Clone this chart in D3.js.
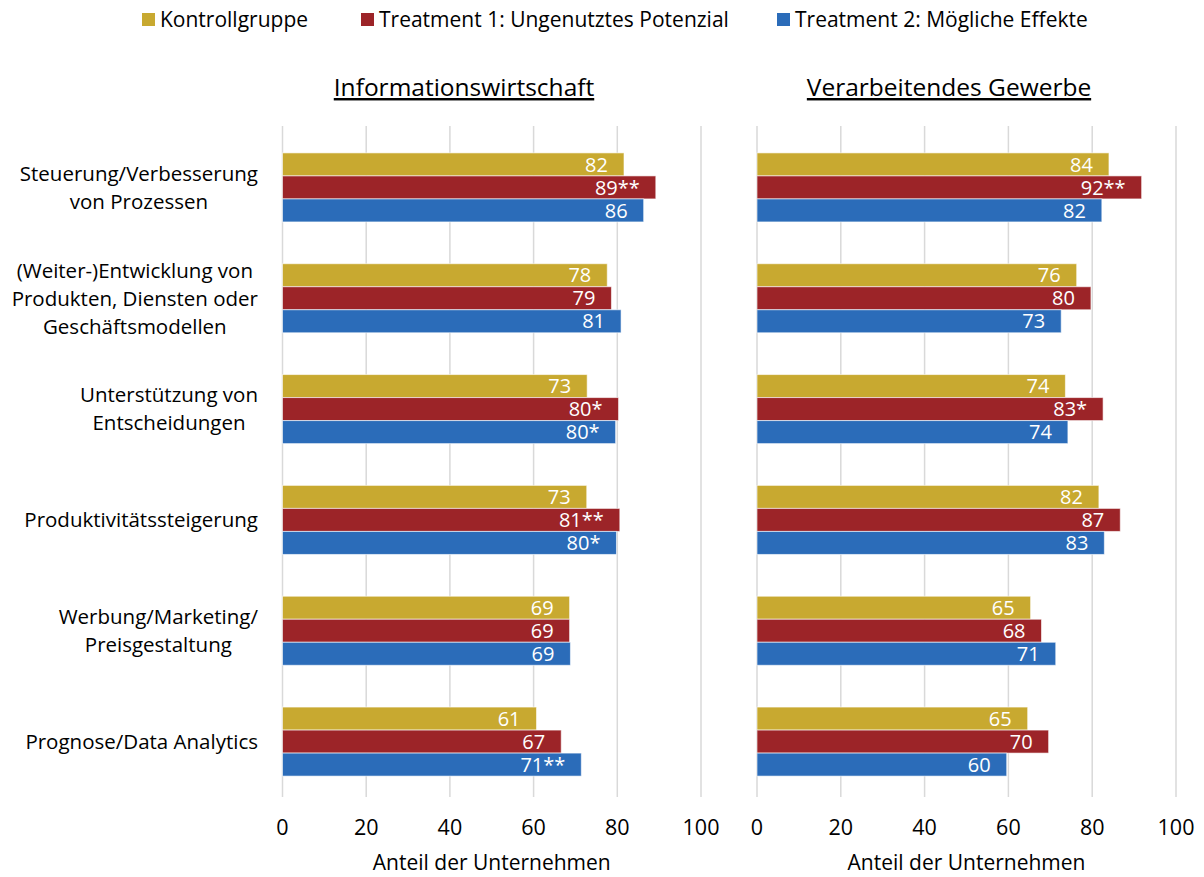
<!DOCTYPE html>
<html>
<head>
<meta charset="utf-8">
<script src="https://cdn.jsdelivr.net/npm/d3@7"></script>
<style>
  body { margin: 0; background: #fff; }
  text { font-family: 'Open Sans', sans-serif; fill: #000; }
</style>
</head>
<body>
<div id="chart"></div>
<script>
var width = 1204,
    height = 877,
    colors = ['#C8A930', '#9C2428', '#2B6CB9'];

// Data
var categories = [
    ['Steuerung/Verbesserung', 'von Prozessen'],
    ['(Weiter-)Entwicklung von', 'Produkten, Diensten oder', 'Geschäftsmodellen'],
    ['Unterstützung von', 'Entscheidungen'],
    ['Produktivitätssteigerung'],
    ['Werbung/Marketing/', 'Preisgestaltung'],
    ['Prognose/Data Analytics']
];
var seriesNames = ['Kontrollgruppe', 'Treatment 1: Ungenutztes Potenzial', 'Treatment 2: Mögliche Effekte'];
var panelTitles = ['Informationswirtschaft', 'Verarbeitendes Gewerbe'];
var xTicks = [0, 20, 40, 60, 80, 100];

// values per category: [Kontrollgruppe, Treatment 1, Treatment 2]
var infoValues = [
    [81.6, 89.2, 86.3],
    [77.6, 78.6, 80.9],
    [72.8, 80.3, 79.6],
    [72.7, 80.6, 79.8],
    [68.6, 68.6, 68.8],
    [60.7, 66.6, 71.4]
];
var infoStars = [
    ['', '**', ''],
    ['', '', ''],
    ['', '*', '*'],
    ['', '**', '*'],
    ['', '', ''],
    ['', '', '**']
];
var gewValues = [
    [84.0, 91.8, 82.3],
    [76.3, 79.7, 72.6],
    [73.6, 82.6, 74.2],
    [81.6, 86.7, 82.9],
    [65.3, 67.9, 71.3],
    [64.6, 69.6, 59.6]
];
var gewStars = [
    ['', '**', ''],
    ['', '', ''],
    ['', '*', ''],
    ['', '', ''],
    ['', '', ''],
    ['', '', '']
];

var svg = d3.select('#chart')
    .append('svg')
    .attr('width', width)
    .attr('height', height);

// Scales
var y = d3.scaleBand()
    .domain(d3.range(categories.length))
    .range([132, 797])
    .paddingInner(0.377)
    .paddingOuter(0.1885);

var ySub = d3.scaleBand()
    .domain(d3.range(seriesNames.length))
    .range([0, y.bandwidth()]);

var panels = [
    {title: panelTitles[0], values: infoValues, stars: infoStars, x0: 282.5, x1: 701, tx: 464},
    {title: panelTitles[1], values: gewValues, stars: gewStars, x0: 757, x1: 1176, tx: 949}
];

panels.forEach(function(p) {
    var x = d3.scaleLinear().domain([0, 100]).range([p.x0, p.x1]);
    var g = svg.append('g');

    // gridlines
    g.selectAll('.grid')
        .data(xTicks)
        .enter()
        .append('line')
        .attr('x1', function(d) { return x(d); })
        .attr('x2', function(d) { return x(d); })
        .attr('y1', 126)
        .attr('y2', 797)
        .attr('stroke', '#d9d9d9')
        .attr('stroke-width', 1.5);

    // tick labels
    g.selectAll('.tick')
        .data(xTicks)
        .enter()
        .append('text')
        .attr('x', function(d) { return x(d); })
        .attr('y', 835)
        .attr('text-anchor', 'middle')
        .style('font-size', '21.5px')
        .text(function(d) { return d; });

    // axis title
    g.append('text')
        .attr('x', (p.x0 + p.x1) / 2)
        .attr('y', 870)
        .attr('text-anchor', 'middle')
        .style('font-size', '21px')
        .text('Anteil der Unternehmen');

    // panel title
    g.append('text')
        .attr('x', p.tx)
        .attr('y', 96)
        .attr('text-anchor', 'middle')
        .style('font-size', '24.5px')
        .style('text-decoration', 'underline')
        .text(p.title);

    // bars
    var cat = g.selectAll('.cat')
        .data(p.values)
        .enter()
        .append('g')
        .attr('transform', function(d, i) { return 'translate(0,' + y(i) + ')'; });

    cat.selectAll('rect')
        .data(function(d) { return d; })
        .enter()
        .append('rect')
        .attr('x', x(0))
        .attr('y', function(d, j) { return ySub(j); })
        .attr('width', function(d) { return x(d) - x(0); })
        .attr('height', ySub.bandwidth())
        .attr('fill', function(d, j) { return colors[j]; })
        .attr('stroke', 'rgba(255,255,255,0.6)')
        .attr('stroke-width', 1);

    // value labels inside bar ends
    cat.selectAll('.lbl')
        .data(function(d, i) {
            return d.map(function(v, j) { return {v: v, s: p.stars[i][j]}; });
        })
        .enter()
        .append('text')
        .attr('x', function(d) { return x(d.v) - 16; })
        .attr('y', function(d, j) { return ySub(j) + ySub.bandwidth() / 2; })
        .attr('dy', '0.36em')
        .attr('text-anchor', 'end')
        .style('font-size', '20px')
        .style('fill', '#fff')
        .text(function(d) { return Math.round(d.v) + d.s; });
});

// category labels: lines centred in a block, block right-aligned
var lineH = 28;
categories.forEach(function(lines, i) {
    var cy = y(i) + y.bandwidth() / 2;
    var grp = svg.append('g');
    var texts = lines.map(function(l, k) {
        return grp.append('text')
            .attr('y', cy + (k - (lines.length - 1) / 2) * lineH)
            .attr('dy', '0.36em')
            .attr('text-anchor', 'middle')
            .style('font-size', '20.5px')
            .text(l);
    });
    var maxW = d3.max(texts, function(t) { return t.node().getComputedTextLength(); });
    texts.forEach(function(t) { t.attr('x', 258 - maxW / 2); });
});

// legend
var legendX = [142, 361, 777];
var legend = svg.selectAll('.legend')
    .data(seriesNames)
    .enter()
    .append('g')
    .attr('transform', function(d, i) { return 'translate(' + legendX[i] + ',13)'; });

legend.append('rect')
    .attr('width', 13)
    .attr('height', 13)
    .attr('fill', function(d, i) { return colors[i]; });

legend.append('text')
    .attr('x', 18)
    .attr('y', 6.5)
    .attr('dy', '0.36em')
    .style('font-size', '21px')
    .text(function(d) { return d; });
</script>
</body>
</html>
